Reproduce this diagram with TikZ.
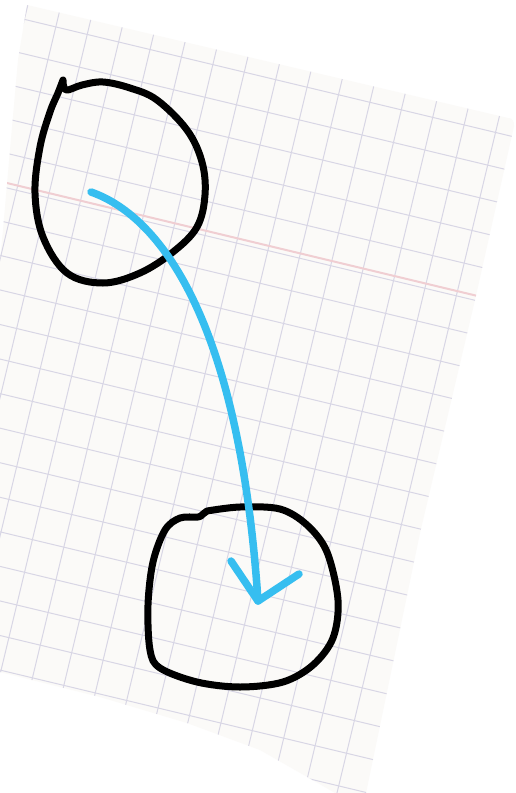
\documentclass[tikz,border=0pt]{standalone}
\usepackage{tikz}
\usetikzlibrary{arrows.meta,positioning}
\usepackage{xcolor}
\definecolor{paper}{RGB}{251,250,248}
\definecolor{gridc}{RGB}{216,214,229}
\definecolor{marginc}{RGB}{240,206,210}
\definecolor{pen}{RGB}{54,190,240}
\begin{document}
\begin{tikzpicture}[x=1pt, y=-1pt]
\tikzset{
  sheet/.style={fill=paper, draw=none},
  gridline/.style={draw=gridc, line width=1pt},
  margin/.style={draw=marginc, line width=2pt},
  loopline/.style={draw=black, line width=7pt, line cap=round, line join=round},
  arr/.style={draw=pen, line width=7.5pt, line cap=round, line join=round},
}
\useasboundingbox (0,0) rectangle (516,793);
\fill[white] (0,0) rectangle (516,793);
\path[sheet] (27,5) -- (508,118) to[out=10,in=80] (514,126) -- (475,300) -- (420,533) -- (366,793)
  -- (335,793) -- (323,786) -- (260,750) -- (187,723) -- (100,697) -- (0,672)
  -- (0,260) -- (3,230) -- (10,150) -- (18,60) -- cycle;
\begin{scope}
\clip (27,5) -- (508,118) to[out=10,in=80] (514,126) -- (475,300) -- (420,533) -- (366,793)
  -- (335,793) -- (323,786) -- (260,750) -- (187,723) -- (100,697) -- (0,672)
  -- (0,260) -- (3,230) -- (10,150) -- (18,60) -- cycle;
\foreach \i in {-12,...,6} {
  \pgfmathsetmacro\gx{315+\i*32.3*0.9724}
  \pgfmathsetmacro\gy{331+\i*32.3*0.2334}
  \draw[gridline] (\gx+420*0.2334,\gy-420*0.9724) -- (\gx-620*0.2334,\gy+620*0.9724);
}
\foreach \j in {-11,...,16} {
  \pgfmathsetmacro\gx{315-\j*33.6*0.2334}
  \pgfmathsetmacro\gy{331+\j*33.6*0.9724}
  \draw[gridline] (\gx-460*0.9724,\gy-460*0.2334) -- (\gx+260*0.9724,\gy+260*0.2334);
}
\draw[margin] (315+72*0.2334-460*0.9724,331-72*0.9724-460*0.2334)
  -- (315+72*0.2334+260*0.9724,331-72*0.9724+260*0.2334);
\end{scope}
\draw[loopline] plot[smooth, tension=0.6] coordinates {(63,80) (66,90) (82,85) (103,82) (130,88)
  (157,100) (187,130) (202,162) (205,195) (197,227) (173,252) (140,273) (103,283) (67,273)
  (43,237) (35,193) (40,147) (50,112) (58,93) (63,80)};
\draw[loopline] plot[smooth, tension=0.55] coordinates {(207,511) (240,507) (280,509) (307,525)
  (327,552) (338,600) (333,638) (313,665) (283,682) (240,687) (197,682) (160,668) (150,650)
  (148,605) (153,562) (165,530) (180,518) (198,517) (203,514) (207,511)};
\coordinate (src) at (91,192);
\coordinate (dst) at (258,601);
\coordinate (barbl) at (231,561);
\coordinate (barbr) at (299,574);
\draw[arr] (src) .. controls (165,218) and (240,330) .. (dst);
\draw[arr] (barbl) -- (dst) -- (barbr);
\end{tikzpicture}
\end{document}
